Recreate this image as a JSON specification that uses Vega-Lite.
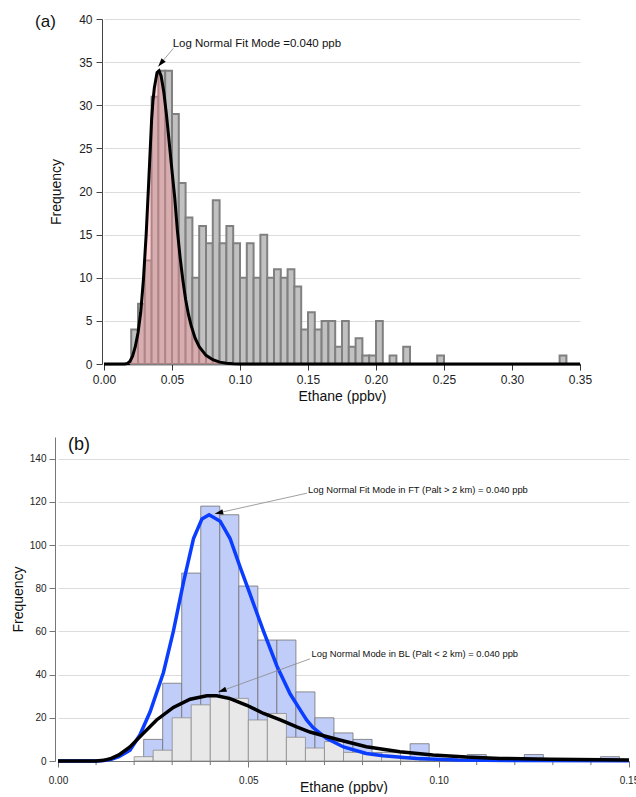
{
  "$schema": "https://vega.github.io/schema/vega-lite/v6.json",
  "padding": {"left": 11, "top": 13, "right": 0, "bottom": 0},
  "spacing": 33,
  "config": {
    "font": "Liberation Sans",
    "view": {"stroke": null},
    "axis": {"labelColor": "#222", "titleColor": "#111", "titleFontWeight": "normal", "labelOverlap": false, "labelFlush": false}
  },
  "datasets": {
    "a_bars": [
      {"x0":0.020,"x1":0.025,"n":4},{"x0":0.025,"x1":0.030,"n":7},{"x0":0.030,"x1":0.035,"n":12},
      {"x0":0.035,"x1":0.040,"n":31},{"x0":0.040,"x1":0.045,"n":34},{"x0":0.045,"x1":0.050,"n":34},
      {"x0":0.050,"x1":0.055,"n":29},{"x0":0.055,"x1":0.060,"n":21},{"x0":0.060,"x1":0.065,"n":17},
      {"x0":0.065,"x1":0.070,"n":10},{"x0":0.070,"x1":0.075,"n":16},{"x0":0.075,"x1":0.080,"n":14},
      {"x0":0.080,"x1":0.085,"n":19},{"x0":0.085,"x1":0.090,"n":14},{"x0":0.090,"x1":0.095,"n":16},
      {"x0":0.095,"x1":0.100,"n":14},{"x0":0.100,"x1":0.105,"n":10},{"x0":0.105,"x1":0.110,"n":14},
      {"x0":0.110,"x1":0.115,"n":10},{"x0":0.115,"x1":0.120,"n":15},{"x0":0.120,"x1":0.125,"n":10},
      {"x0":0.125,"x1":0.130,"n":11},{"x0":0.130,"x1":0.135,"n":10},{"x0":0.135,"x1":0.140,"n":11},
      {"x0":0.140,"x1":0.145,"n":9},{"x0":0.145,"x1":0.150,"n":4},{"x0":0.150,"x1":0.155,"n":6},
      {"x0":0.155,"x1":0.160,"n":4},{"x0":0.160,"x1":0.165,"n":5},{"x0":0.165,"x1":0.170,"n":5},
      {"x0":0.170,"x1":0.175,"n":2},{"x0":0.175,"x1":0.180,"n":5},{"x0":0.180,"x1":0.185,"n":2},
      {"x0":0.185,"x1":0.190,"n":3},{"x0":0.190,"x1":0.195,"n":1},{"x0":0.195,"x1":0.200,"n":1},
      {"x0":0.200,"x1":0.205,"n":5},{"x0":0.210,"x1":0.215,"n":1},{"x0":0.220,"x1":0.225,"n":2},
      {"x0":0.245,"x1":0.250,"n":1},{"x0":0.335,"x1":0.340,"n":1}
    ],
    "a_curve": [
      {"x":0,"y":0},{"x":0.015,"y":0},{"x":0.017,"y":0.05},{"x":0.019,"y":0.3},{"x":0.021,"y":0.9},
      {"x":0.023,"y":2.0},{"x":0.025,"y":3.6},{"x":0.027,"y":6.0},{"x":0.029,"y":9.8},{"x":0.031,"y":15},
      {"x":0.033,"y":21.5},{"x":0.035,"y":28.3},{"x":0.036,"y":30.5},{"x":0.037,"y":32.0},{"x":0.039,"y":33.8},
      {"x":0.0405,"y":34},{"x":0.042,"y":33.4},{"x":0.044,"y":31.5},{"x":0.046,"y":28.8},{"x":0.048,"y":25.6},
      {"x":0.050,"y":22.4},{"x":0.052,"y":19.3},{"x":0.054,"y":15.4},{"x":0.056,"y":12.3},{"x":0.058,"y":9.7},
      {"x":0.060,"y":7.5},{"x":0.062,"y":5.8},{"x":0.064,"y":4.5},{"x":0.067,"y":3.0},{"x":0.070,"y":2.0},
      {"x":0.075,"y":1.0},{"x":0.080,"y":0.5},{"x":0.085,"y":0.22},{"x":0.090,"y":0.08},{"x":0.095,"y":0.02},
      {"x":0.100,"y":0},{"x":0.350,"y":0}
    ],
    "a_note": [{"x":0.051,"y":36.6,"x2":0.0399,"y2":34.5,"tx":0.0505,"ty":36.7,"label":"Log Normal Fit Mode =0.040 ppb"}],
    "a_tag": [{"x":-0.0507,"y":39.05,"label":"(a)"}],
    "b_ft": [
      {"x0":0.0225,"x1":0.0275,"n":10},{"x0":0.0275,"x1":0.0325,"n":36},{"x0":0.0325,"x1":0.0375,"n":87},
      {"x0":0.0375,"x1":0.0425,"n":118},{"x0":0.0425,"x1":0.0475,"n":114},{"x0":0.0475,"x1":0.0525,"n":81},
      {"x0":0.0525,"x1":0.0575,"n":56},{"x0":0.0575,"x1":0.0625,"n":56},{"x0":0.0625,"x1":0.0675,"n":32},
      {"x0":0.0675,"x1":0.0725,"n":20},{"x0":0.0725,"x1":0.0775,"n":13},{"x0":0.0775,"x1":0.0825,"n":10},
      {"x0":0.0825,"x1":0.0875,"n":4},{"x0":0.0875,"x1":0.0925,"n":2},{"x0":0.0925,"x1":0.0975,"n":8},
      {"x0":0.0975,"x1":0.1025,"n":1},{"x0":0.1075,"x1":0.1125,"n":3},{"x0":0.1225,"x1":0.1275,"n":3},
      {"x0":0.1425,"x1":0.1475,"n":2}
    ],
    "b_bl": [
      {"x0":0.020,"x1":0.025,"n":2},{"x0":0.025,"x1":0.030,"n":5},{"x0":0.030,"x1":0.035,"n":20},
      {"x0":0.035,"x1":0.040,"n":26},{"x0":0.040,"x1":0.045,"n":30},{"x0":0.045,"x1":0.050,"n":29},
      {"x0":0.050,"x1":0.055,"n":19},{"x0":0.055,"x1":0.060,"n":22},{"x0":0.060,"x1":0.065,"n":11},
      {"x0":0.065,"x1":0.070,"n":6},{"x0":0.070,"x1":0.075,"n":9},{"x0":0.075,"x1":0.080,"n":4},
      {"x0":0.080,"x1":0.085,"n":3},{"x0":0.085,"x1":0.090,"n":4},{"x0":0.090,"x1":0.095,"n":1}
    ],
    "b_ftcurve": [
      {"x":0,"y":0},{"x":0.010,"y":0},{"x":0.012,"y":0.2},{"x":0.014,"y":0.8},{"x":0.016,"y":2.0},
      {"x":0.018,"y":4.0},{"x":0.0189,"y":5},{"x":0.0215,"y":12},{"x":0.0242,"y":22.8},{"x":0.0277,"y":41},
      {"x":0.0303,"y":60},{"x":0.0330,"y":83},{"x":0.0356,"y":103},{"x":0.0378,"y":112},{"x":0.0397,"y":114},
      {"x":0.0426,"y":111},{"x":0.0452,"y":103},{"x":0.0478,"y":90},{"x":0.0505,"y":77},{"x":0.0540,"y":60},
      {"x":0.0575,"y":44},{"x":0.0610,"y":31},{"x":0.0635,"y":24},{"x":0.0653,"y":19},{"x":0.0670,"y":15.5},
      {"x":0.0705,"y":10.5},{"x":0.0750,"y":6.5},{"x":0.0810,"y":3.5},{"x":0.0854,"y":2.4},{"x":0.0942,"y":1.2},
      {"x":0.105,"y":0.5},{"x":0.120,"y":0.2},{"x":0.150,"y":0.1}
    ],
    "b_blcurve": [
      {"x":0,"y":0},{"x":0.010,"y":0},{"x":0.012,"y":0.3},{"x":0.014,"y":1.2},{"x":0.016,"y":2.8},
      {"x":0.0189,"y":6.5},{"x":0.0224,"y":12.8},{"x":0.0259,"y":19},{"x":0.0303,"y":24.8},{"x":0.0347,"y":28.6},
      {"x":0.0391,"y":30.2},{"x":0.0417,"y":30.2},{"x":0.0452,"y":28.9},{"x":0.0496,"y":25.8},{"x":0.0540,"y":22},
      {"x":0.0584,"y":19},{"x":0.0627,"y":15.8},{"x":0.0662,"y":13.4},{"x":0.0700,"y":11.6},{"x":0.0740,"y":9.7},
      {"x":0.0810,"y":6.6},{"x":0.0898,"y":4.3},{"x":0.0985,"y":2.8},{"x":0.1073,"y":1.8},{"x":0.1161,"y":1.2},
      {"x":0.1292,"y":0.8},{"x":0.150,"y":0.5}
    ],
    "b_minor": [
      {"x":0.01},{"x":0.02},{"x":0.03},{"x":0.04},{"x":0.06},{"x":0.07},
      {"x":0.08},{"x":0.09},{"x":0.11},{"x":0.12},{"x":0.13},{"x":0.14}
    ],
    "b_notes": [
      {"x":0.0654,"y":124.0,"x2":0.0412,"y2":114.5,"tx":0.0657,"ty":124.3,"angle":257.5,"label":"Log Normal Fit Mode in FT (Palt > 2 km) = 0.040 ppb"},
      {"x":0.0662,"y":47.3,"x2":0.0421,"y2":31.9,"tx":0.0666,"ty":48.1,"angle":250,"label":"Log Normal Mode in BL (Palt < 2 km)  = 0.040 ppb"}
    ],
    "b_tag": [{"x":0.0026,"y":143.9,"label":"(b)"}]
  },
  "vconcat": [
    {
      "width": 522,
      "height": 345,
      "layer": [
        {
          "data": {"name": "a_bars"},
          "mark": {"type": "rect", "fill": "#c1c1c1", "stroke": "#808080", "strokeWidth": 2},
          "encoding": {
            "x": {"field": "x0", "type": "quantitative", "scale": {"domain": [0, 0.35], "range": [46, 522], "nice": false},
              "axis": {"title": "Ethane (ppbv)", "values": [0,0.05,0.1,0.15,0.2,0.25,0.3,0.35], "format": ".2f",
                "labelFontSize": 12, "titleFontSize": 14, "tickSize": 6, "labelPadding": 4, "titlePadding": 4,
                "labelOverlap": false, "labelFlush": false,
                "domainColor": "#000", "domainWidth": 1.5, "tickColor": "#333", "grid": false}},
            "x2": {"field": "x1"},
            "y": {"field": "n", "type": "quantitative", "scale": {"domain": [0, 40], "nice": false},
              "axis": {"title": "Frequency", "values": [0,2.5,5,7.5,10,12.5,15,17.5,20,22.5,25,27.5,30,32.5,35,37.5,40],
                "labelExpr": "indexof(['0','5','10','15','20','25','30','35','40'], datum.label) >= 0 ? datum.label : ''",
                "labelFontSize": 12, "titleFontSize": 14,
                "labelOverlap": false, "labelFlush": false,
                "tickSize": {"condition": {"test": "datum.value % 5 === 0", "value": 6}, "value": 3},
                "grid": true, "gridColor": "#dcdcdc",
                "gridOpacity": {"condition": {"test": "datum.value % 5 === 0 && datum.value > 0", "value": 1}, "value": 0},
                "labelPadding": 4, "titlePadding": 15, "offset": -44, "domainColor": "#444", "tickColor": "#444"}},
            "y2": {"datum": 0}
          }
        },
        {
          "data": {"name": "a_curve"},
          "mark": {"type": "area", "color": "#ff8d96", "opacity": 0.38},
          "encoding": {
            "x": {"field": "x", "type": "quantitative"},
            "y": {"field": "y", "type": "quantitative"}
          }
        },
        {
          "data": {"name": "a_curve"},
          "mark": {"type": "line", "color": "#000", "strokeWidth": 3},
          "encoding": {
            "x": {"field": "x", "type": "quantitative"},
            "y": {"field": "y", "type": "quantitative"}
          }
        },
        {
          "data": {"name": "a_note"},
          "mark": {"type": "rule", "color": "#888", "strokeWidth": 0.8},
          "encoding": {
            "x": {"field": "x", "type": "quantitative"},
            "y": {"field": "y", "type": "quantitative"},
            "x2": {"field": "x2"},
            "y2": {"field": "y2"}
          }
        },
        {
          "data": {"name": "a_note"},
          "mark": {"type": "point", "shape": "M0,0L0.33,1L-0.33,1Z", "filled": true, "color": "#000", "opacity": 1, "size": 280, "angle": 219.8},
          "encoding": {
            "x": {"field": "x2", "type": "quantitative"},
            "y": {"field": "y2", "type": "quantitative"}
          }
        },
        {
          "data": {"name": "a_note"},
          "mark": {"type": "text", "align": "left", "baseline": "alphabetic", "fontSize": 11.5, "color": "#111"},
          "encoding": {
            "x": {"field": "tx", "type": "quantitative"},
            "y": {"field": "ty", "type": "quantitative"},
            "text": {"field": "label"}
          }
        },
        {
          "data": {"name": "a_tag"},
          "mark": {"type": "text", "align": "left", "baseline": "alphabetic", "fontSize": 17, "color": "#111"},
          "encoding": {
            "x": {"field": "x", "type": "quantitative"},
            "y": {"field": "y", "type": "quantitative"},
            "text": {"field": "label"}
          }
        }
      ]
    },
    {
      "width": 571,
      "height": 324,
      "layer": [
        {
          "data": {"name": "b_ft"},
          "mark": {"type": "rect", "fill": "#c1cdf9", "stroke": "#727272", "strokeWidth": 0.8},
          "encoding": {
            "x": {"field": "x0", "type": "quantitative", "scale": {"domain": [0, 0.15], "nice": false},
              "axis": {"title": "Ethane (ppbv)", "values": [0, 0.05, 0.1, 0.15],
                "format": ".2f", "labelFontSize": 10, "titleFontSize": 14, "labelOverlap": false, "labelFlush": false,
                "tickSize": 6, "labelPadding": 8, "titlePadding": -5, "domainColor": "#777", "tickColor": "#777", "grid": false}},
            "x2": {"field": "x1"},
            "y": {"field": "n", "type": "quantitative", "scale": {"domain": [0, 150], "nice": false},
              "axis": {"title": "Frequency", "values": [0,10,20,30,40,50,60,70,80,90,100,110,120,130,140,150],
                "labelExpr": "datum.value % 20 === 0 ? datum.label : ''", "labelFontSize": 10, "titleFontSize": 14,
                "labelOverlap": false, "labelFlush": false,
                "tickSize": {"condition": {"test": "datum.value % 20 === 0", "value": 6}, "value": 3},
                "grid": true, "gridColor": "#dcdcdc",
                "gridOpacity": {"condition": {"test": "datum.value % 20 === 0 && datum.value > 0", "value": 1}, "value": 0},
                "labelPadding": 3, "titlePadding": 4, "offset": 3, "domainColor": "#777", "tickColor": "#777"}},
            "y2": {"datum": 0}
          }
        },
        {
          "data": {"name": "b_minor"},
          "mark": {"type": "rule", "color": "#777", "strokeWidth": 1},
          "encoding": {
            "x": {"field": "x", "type": "quantitative"},
            "y": {"datum": 0, "type": "quantitative"},
            "y2": {"datum": -1.9}
          }
        },
        {
          "data": {"name": "b_bl"},
          "mark": {"type": "rect", "fill": "#e8e8e8", "stroke": "#8c8c8c", "strokeWidth": 0.8},
          "encoding": {
            "x": {"field": "x0", "type": "quantitative"},
            "x2": {"field": "x1"},
            "y": {"field": "n", "type": "quantitative"},
            "y2": {"datum": 0}
          }
        },
        {
          "data": {"name": "b_ftcurve"},
          "mark": {"type": "line", "color": "#0a3dff", "strokeWidth": 3.5},
          "encoding": {
            "x": {"field": "x", "type": "quantitative"},
            "y": {"field": "y", "type": "quantitative"}
          }
        },
        {
          "data": {"name": "b_blcurve"},
          "mark": {"type": "line", "color": "#000", "strokeWidth": 3.5},
          "encoding": {
            "x": {"field": "x", "type": "quantitative"},
            "y": {"field": "y", "type": "quantitative"}
          }
        },
        {
          "data": {"name": "b_notes"},
          "mark": {"type": "rule", "color": "#888", "strokeWidth": 0.8},
          "encoding": {
            "x": {"field": "x", "type": "quantitative"},
            "y": {"field": "y", "type": "quantitative"},
            "x2": {"field": "x2"},
            "y2": {"field": "y2"}
          }
        },
        {
          "data": {"name": "b_notes"},
          "mark": {"type": "point", "shape": "M0,0L0.33,1L-0.33,1Z", "filled": true, "color": "#000", "opacity": 1, "size": 280},
          "encoding": {
            "x": {"field": "x2", "type": "quantitative"},
            "y": {"field": "y2", "type": "quantitative"},
            "angle": {"field": "angle", "type": "quantitative", "scale": null}
          }
        },
        {
          "data": {"name": "b_notes"},
          "mark": {"type": "text", "align": "left", "baseline": "alphabetic", "fontSize": 9.4, "color": "#111"},
          "encoding": {
            "x": {"field": "tx", "type": "quantitative"},
            "y": {"field": "ty", "type": "quantitative"},
            "text": {"field": "label"}
          }
        },
        {
          "data": {"name": "b_tag"},
          "mark": {"type": "text", "align": "left", "baseline": "alphabetic", "fontSize": 18, "color": "#111"},
          "encoding": {
            "x": {"field": "x", "type": "quantitative"},
            "y": {"field": "y", "type": "quantitative"},
            "text": {"field": "label"}
          }
        }
      ]
    }
  ]
}
